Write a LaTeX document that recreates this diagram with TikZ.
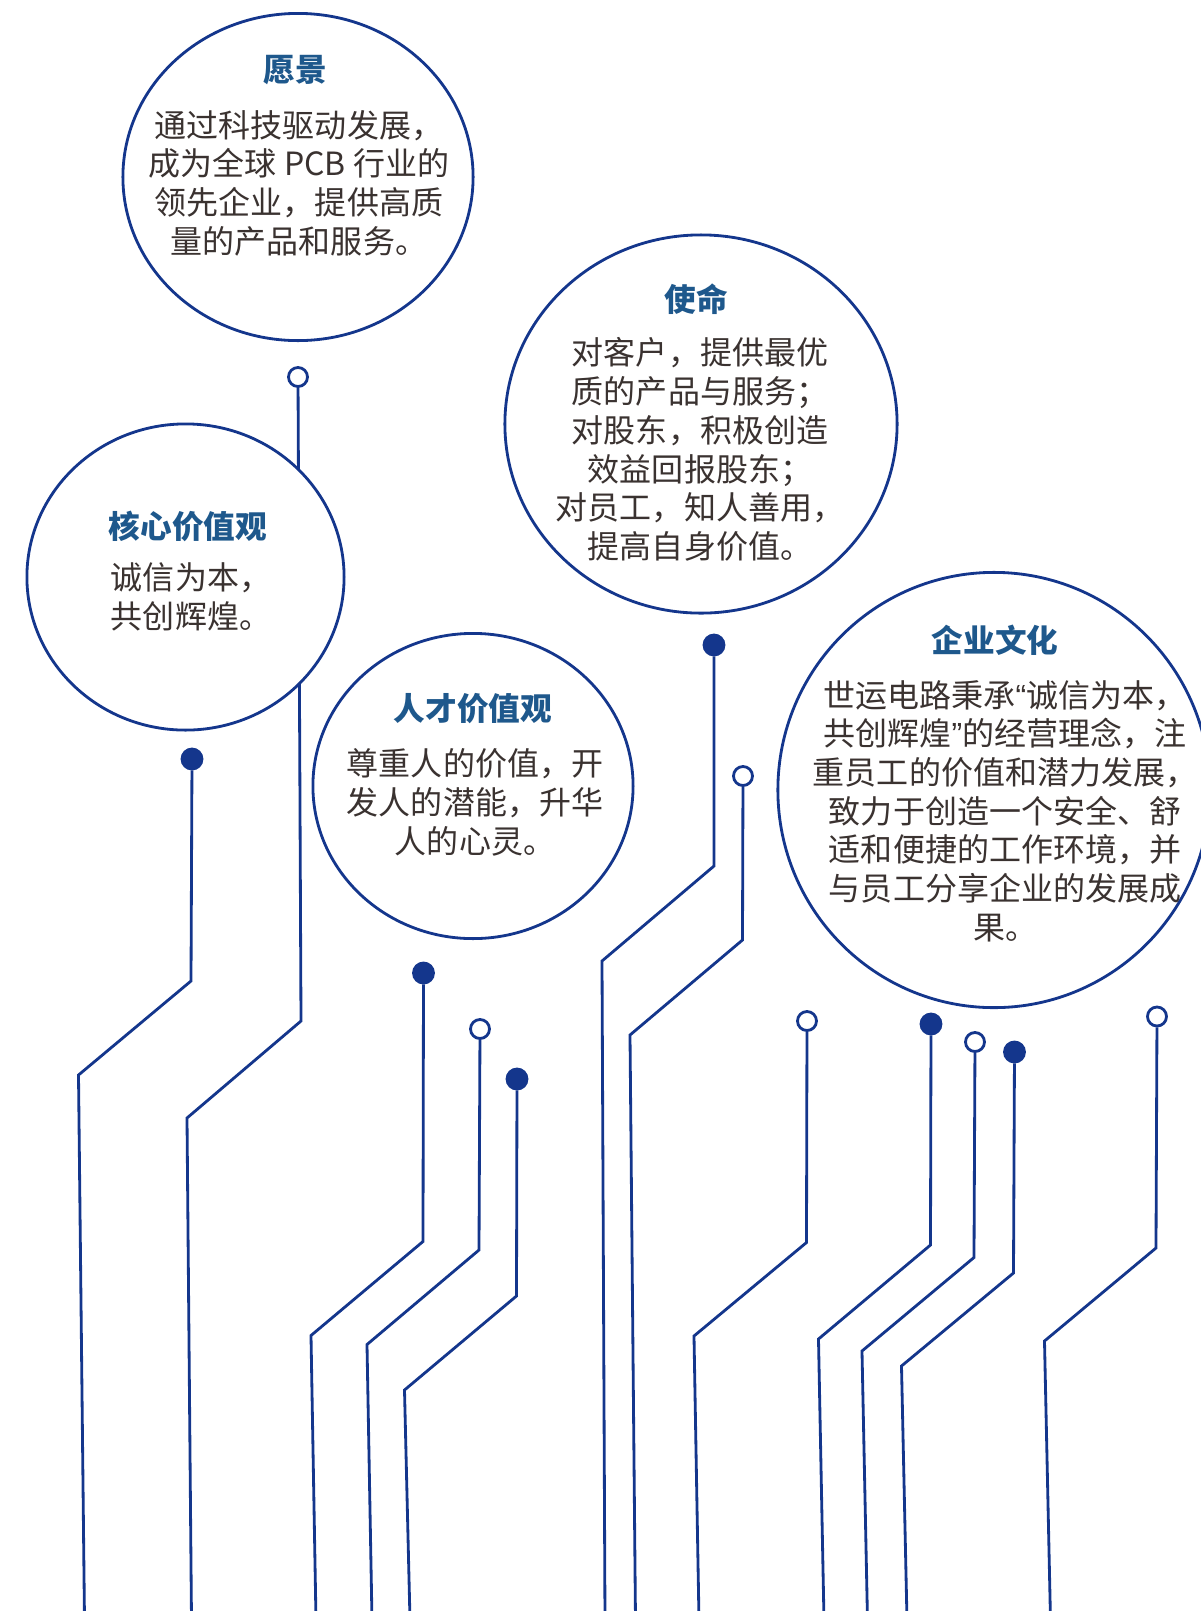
\documentclass[tikz,border=0pt]{standalone}
\usepackage{fontspec}
\newfontfamily\cjk{Noto Sans CJK SC}
\newfontfamily\quotefont{Liberation Sans}
\newcommand{\openq}{{\quotefont “}}
\newcommand{\closeq}{{\quotefont ”}}
\usetikzlibrary{shapes.geometric}
\definecolor{tracecol}{RGB}{20,54,140}
\definecolor{titlecol}{RGB}{30,88,140}
\definecolor{bodycol}{RGB}{58,50,48}

\begin{document}
\begin{tikzpicture}[x=0.01cm, y=-0.01cm,
    trace/.style={draw=tracecol, line width=0.8pt},
    padfull/.style={circle, draw=tracecol, fill=tracecol, line width=0.8pt, minimum size=0.2cm, inner sep=0pt},
    padopen/.style={circle, draw=tracecol, fill=white, line width=0.8pt, minimum size=0.19cm, inner sep=0pt},
    bubble/.style={ellipse, draw=tracecol, fill=white, line width=0.8pt, inner sep=0pt},
    heading/.style={font=\cjk\bfseries\fontsize{9pt}{11pt}\selectfont, text=titlecol},
    body/.style={font=\cjk\fontsize{9.1pt}{11pt}\selectfont, text=bodycol, align=center}]
            \useasboundingbox (0,0) rectangle (1201,1611);
            \clip (0,0) rectangle (1201,1611);

            % pads
            \node[padfull] (pad1)  at (192, 759)    {};
            \node[padopen] (pad2)  at (298, 377)    {};
            \node[padfull] (pad3)  at (423.5, 973)  {};
            \node[padopen] (pad4)  at (480, 1029)   {};
            \node[padfull] (pad5)  at (517, 1079)   {};
            \node[padfull] (pad6)  at (714, 645)    {};
            \node[padopen] (pad7)  at (743, 776)    {};
            \node[padopen] (pad8)  at (807, 1021)   {};
            \node[padfull] (pad9)  at (931, 1024)   {};
            \node[padopen] (pad10) at (975, 1042)   {};
            \node[padfull] (pad11) at (1014.5, 1052) {};
            \node[padopen] (pad12) at (1157, 1016.5) {};

            \coordinate (end1)  at (84.5, 1620);
            \coordinate (end2)  at (191.5, 1620);
            \coordinate (end3)  at (316, 1620);
            \coordinate (end4)  at (372, 1620);
            \coordinate (end5)  at (410, 1620);
            \coordinate (end6)  at (605, 1620);
            \coordinate (end7)  at (635.5, 1620);
            \coordinate (end8)  at (699, 1620);
            \coordinate (end9)  at (824, 1620);
            \coordinate (end10) at (867.5, 1620);
            \coordinate (end11) at (907, 1620);
            \coordinate (end12) at (1050.5, 1620);

            % traces
            \draw[trace] (pad1)  -- (191, 981)      -- (78.5, 1075)  -- (end1);
            \draw[trace] (pad2)  -- (301, 1021)     -- (187, 1118)   -- (end2);
            \draw[trace] (pad3)  -- (423, 1241.5)   -- (311, 1335.5) -- (end3);
            \draw[trace] (pad4)  -- (479, 1250)     -- (367, 1344.5) -- (end4);
            \draw[trace] (pad5)  -- (516.5, 1296)   -- (404.5, 1390) -- (end5);
            \draw[trace] (pad6)  -- (714, 866)      -- (602, 961)    -- (end6);
            \draw[trace] (pad7)  -- (742.5, 940)    -- (630, 1035)   -- (end7);
            \draw[trace] (pad8)  -- (806.5, 1242.5) -- (694, 1336)   -- (end8);
            \draw[trace] (pad9)  -- (930.5, 1245)   -- (818.5, 1339) -- (end9);
            \draw[trace] (pad10) -- (974, 1257.5)   -- (862, 1351)   -- (end10);
            \draw[trace] (pad11) -- (1013.5, 1273)  -- (901.5, 1366) -- (end11);
            \draw[trace] (pad12) -- (1156, 1248)    -- (1044.5, 1341) -- (end12);

            % bubbles
            \node[bubble, minimum width=3.5cm,  minimum height=3.27cm] (vision)  at (298, 177)   {};
            \node[bubble, minimum width=3.17cm, minimum height=3.06cm] (core)    at (185.5, 577) {};
            \node[bubble, minimum width=3.92cm, minimum height=3.78cm] (mission) at (701, 424)   {};
            \node[bubble, minimum width=3.2cm,  minimum height=3.05cm] (talent)  at (473, 786)   {};
            \node[bubble, minimum width=4.32cm, minimum height=4.35cm] (culture) at (994, 790)   {};

            \node[heading] (visiontitle)  at (295, 70)  {愿景};
            \node[body]    (visiontext)   at (299, 183) {通过科技驱动发展，\\成为全球 PCB 行业的\\领先企业，提供高质\\量的产品和服务。};

            \node[heading] (coretitle)    at (188, 526) {核心价值观};
            \node[body]    (coretext)     at (191, 597) {诚信为本，\\共创辉煌。};

            \node[heading] (missiontitle) at (696, 299)   {使命};
            \node[body]    (missiontext)  at (700, 449.5) {对客户，提供最优\\质的产品与服务；\\对股东，积极创造\\效益回报股东；\\对员工，知人善用，\\提高自身价值。};

            \node[heading] (talenttitle)  at (473, 709)   {人才价值观};
            \node[body]    (talenttext)   at (475, 802.5) {尊重人的价值，开\\发人的潜能，升华\\人的心灵。};

            \node[heading] (culturetitle) at (995, 640) {企业文化};
            \node[body]    (culturetext)  at (1005, 811) {世运电路秉承\openq 诚信为本，\\共创辉煌\closeq 的经营理念，注\\重员工的价值和潜力发展，\\致力于创造一个安全、舒\\适和便捷的工作环境，并\\与员工分享企业的发展成\\果。};
        \end{tikzpicture}
\end{document}
